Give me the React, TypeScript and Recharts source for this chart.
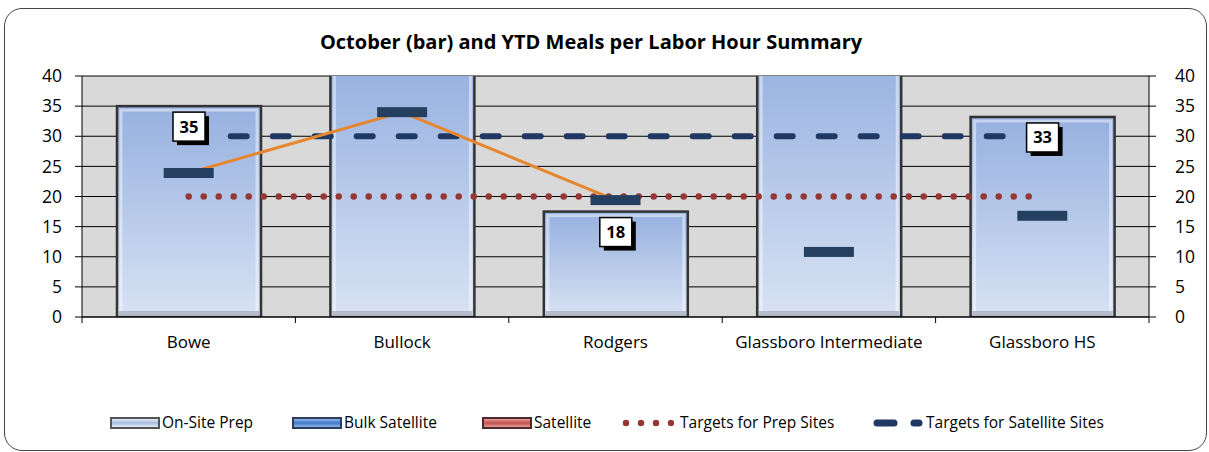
import { ComposedChart, Bar, Line, XAxis, YAxis, CartesianGrid, LabelList } from "recharts";

const sites = ["Bowe", "Bullock", "Rodgers", "Glassboro Intermediate", "Glassboro HS"];
// October meals per labor hour (bars run past the 40 cap for Bullock / Glassboro Intermediate)
const octoberOnSite = [35, 42, 17.5, 44, 33.2];
// YTD markers, and the orange YTD line that only covers the first three sites
const ytdMarkers = [23.9, 34.0, 19.4, 10.8, 16.8];
const ytdTrend = [23.9, 34.0, 19.4, null, null];
const prepTarget = [20, 20, 20, 20, 20];
const satelliteTarget = [30, 30, 30, 30, 30];
const yTicks = [0, 5, 10, 15, 20, 25, 30, 35, 40];

const FONT = "'Open Sans', sans-serif";

const data = sites.map((site, i) => ({
  site,
  onSite: octoberOnSite[i],
  ytd: ytdMarkers[i],
  trend: ytdTrend[i],
  prep: prepTarget[i],
  sat: satelliteTarget[i],
}));

function BevelBar(props: any) {
  const { x, y, width, height, index } = props;
  if (!height || height <= 0) return null;
  const id = `barGrad${index}`;
  return (
    <g>
      <defs>
        <linearGradient id={id} x1="0" y1="0" x2="0" y2="1">
          <stop offset="0%" stopColor="#96b0e0" />
          <stop offset="100%" stopColor="#d8e2f3" />
        </linearGradient>
      </defs>
      <rect x={x} y={y} width={width} height={height} fill={`url(#${id})`} stroke="#333" strokeWidth={2.5} />
      <rect x={x + 4} y={y + 4} width={width - 8} height={height - 8} fill="none" stroke="rgba(255,255,255,0.45)" strokeWidth={3} />
      <rect x={x + 2} y={y + height - 6} width={width - 4} height={4} fill="rgba(90,100,120,0.35)" />
    </g>
  );
}

function ValueBox(props: any) {
  const { x, y, width, value } = props;
  if (value == null || value > 40) return null;
  const cx = x + width / 2;
  const top = y + 6;
  const w = 32;
  const h = 29;
  return (
    <g>
      <rect x={cx - w / 2 + 4} y={top + 4} width={w} height={h} fill="#000" />
      <rect x={cx - w / 2} y={top} width={w} height={h} fill="#fff" stroke="#000" strokeWidth={1.5} />
      <text x={cx} y={top + h / 2 + 6} textAnchor="middle" fontFamily={FONT} fontWeight={700} fontSize={16.5} fill="#000">
        {Math.round(value)}
      </text>
    </g>
  );
}

function MarkerDot(props: any) {
  const { cx, cy, index } = props;
  if (cx == null || cy == null) return <g key={`m${index}`} />;
  return <rect key={`m${index}`} x={cx - 25} y={cy - 5} width={50} height={10} fill="#243f60" />;
}

function SiteTick(props: any) {
  const { x, y, payload, index, visibleTicksCount } = props;
  const half = 1067 / 5 / 2;
  return (
    <g>
      <line x1={x - half} y1={y} x2={x - half} y2={y + 6} stroke="#000" />
      {index === visibleTicksCount - 1 && <line x1={x + half} y1={y} x2={x + half} y2={y + 6} stroke="#000" />}
      <text x={x} y={y + 31} textAnchor="middle" fontFamily={FONT} fontSize={17} fill="#000">
        {payload.value}
      </text>
    </g>
  );
}

function LegendSwatch({ from, to, border }: { from: string; to: string; border: string }) {
  return (
    <span
      style={{
        position: "absolute",
        width: 46,
        height: 8,
        top: 5,
        left: -52,
        border: `2px solid ${border}`,
        background: `linear-gradient(${from}, ${to}, ${from})`,
      }}
    />
  );
}

const legendText: React.CSSProperties = {
  position: "absolute",
  top: 412,
  fontFamily: FONT,
  fontSize: 15.5,
  lineHeight: "20px",
  color: "#000",
  whiteSpace: "nowrap",
};

export default function App() {
  return (
    <div style={{ position: "absolute", left: 0, top: 0, width: 1209, height: 452, background: "#fff", overflow: "hidden" }}>
      <div
        style={{
          position: "absolute",
          left: 4,
          top: 8,
          width: 1203,
          height: 443,
          border: "1px solid #444",
          borderRadius: 18,
          boxSizing: "border-box",
        }}
      />
      <div
        style={{
          position: "absolute",
          top: 29,
          left: 0,
          width: 1182,
          textAlign: "center",
          fontFamily: FONT,
          fontWeight: 700,
          fontSize: 20,
          lineHeight: "26px",
          color: "#000",
        }}
      >
        October (bar) and YTD Meals per Labor Hour Summary
      </div>
      <div style={{ position: "absolute", left: 0, top: 0 }}>
        <ComposedChart width={1209} height={452} data={data} margin={{ top: 76, right: 0, bottom: 95, left: 0 }}>
          <CartesianGrid vertical={false} stroke="#000" fill="#d9d9d9" yAxisId="left" />
          <XAxis
            dataKey="site"
            height={40}
            tickLine={false}
            tickSize={0}
            tickMargin={0}
            axisLine={{ stroke: "#000" }}
            tick={<SiteTick />}
            interval={0}
          />
          <YAxis
            yAxisId="left"
            width={82}
            domain={[0, 40]}
            ticks={yTicks}
            allowDataOverflow
            tickSize={7}
            tickMargin={13}
            axisLine={{ stroke: "#000" }}
            tickLine={{ stroke: "#000" }}
            tick={{ fill: "#000", fontSize: 17.5, fontFamily: FONT }}
          />
          <YAxis
            yAxisId="right"
            orientation="right"
            width={60}
            domain={[0, 40]}
            ticks={yTicks}
            allowDataOverflow
            tickSize={7}
            tickMargin={19}
            axisLine={{ stroke: "#000" }}
            tickLine={{ stroke: "#000" }}
            tick={{ fill: "#000", fontSize: 17.5, fontFamily: FONT, textAnchor: "start" }}
          />
          <Bar yAxisId="left" dataKey="onSite" barSize={144} shape={<BevelBar />} isAnimationActive={false}>
            <LabelList dataKey="onSite" content={<ValueBox />} />
          </Bar>
          <Line
            yAxisId="left"
            dataKey="prep"
            stroke="#953735"
            strokeWidth={6.5}
            strokeDasharray="0 15"
            strokeLinecap="round"
            dot={false}
            activeDot={false}
            isAnimationActive={false}
          />
          <Line
            yAxisId="left"
            dataKey="sat"
            stroke="#1f3864"
            strokeWidth={6}
            strokeDasharray="16 26"
            strokeLinecap="round"
            dot={false}
            activeDot={false}
            isAnimationActive={false}
          />
          <Line
            yAxisId="left"
            dataKey="trend"
            stroke="#e6872f"
            strokeWidth={3}
            dot={false}
            activeDot={false}
            isAnimationActive={false}
          />
          <Line
            yAxisId="left"
            dataKey="ytd"
            stroke="none"
            strokeWidth={0}
            dot={<MarkerDot />}
            activeDot={false}
            isAnimationActive={false}
          />
        </ComposedChart>
      </div>
      {/* legend */}
      <div style={{ ...legendText, left: 162 }}>
        <LegendSwatch from="#e4ebf6" to="#a9bde0" border="#555" />
        On-Site Prep
      </div>
      <div style={{ ...legendText, left: 344 }}>
        <LegendSwatch from="#8fb4ec" to="#3f78c8" border="#2b3f5c" />
        Bulk Satellite
      </div>
      <div style={{ ...legendText, left: 534 }}>
        <LegendSwatch from="#e89c9a" to="#c0504d" border="#4a2a2a" />
        Satellite
      </div>
      <div style={{ ...legendText, left: 680 }}>
        <svg width={52} height={10} style={{ position: "absolute", left: -58, top: 6 }}>
          <line x1={4} y1={5} x2={50} y2={5} stroke="#953735" strokeWidth={6.5} strokeDasharray="0 15" strokeLinecap="round" />
        </svg>
        Targets for Prep Sites
      </div>
      <div style={{ ...legendText, left: 926 }}>
        <svg width={56} height={10} style={{ position: "absolute", left: -54, top: 6 }}>
          <line x1={5} y1={5} x2={22} y2={5} stroke="#1f3864" strokeWidth={7} strokeLinecap="round" />
          <line x1={42} y1={5} x2={47} y2={5} stroke="#1f3864" strokeWidth={7} strokeLinecap="round" />
        </svg>
        Targets for Satellite Sites
      </div>
    </div>
  );
}
